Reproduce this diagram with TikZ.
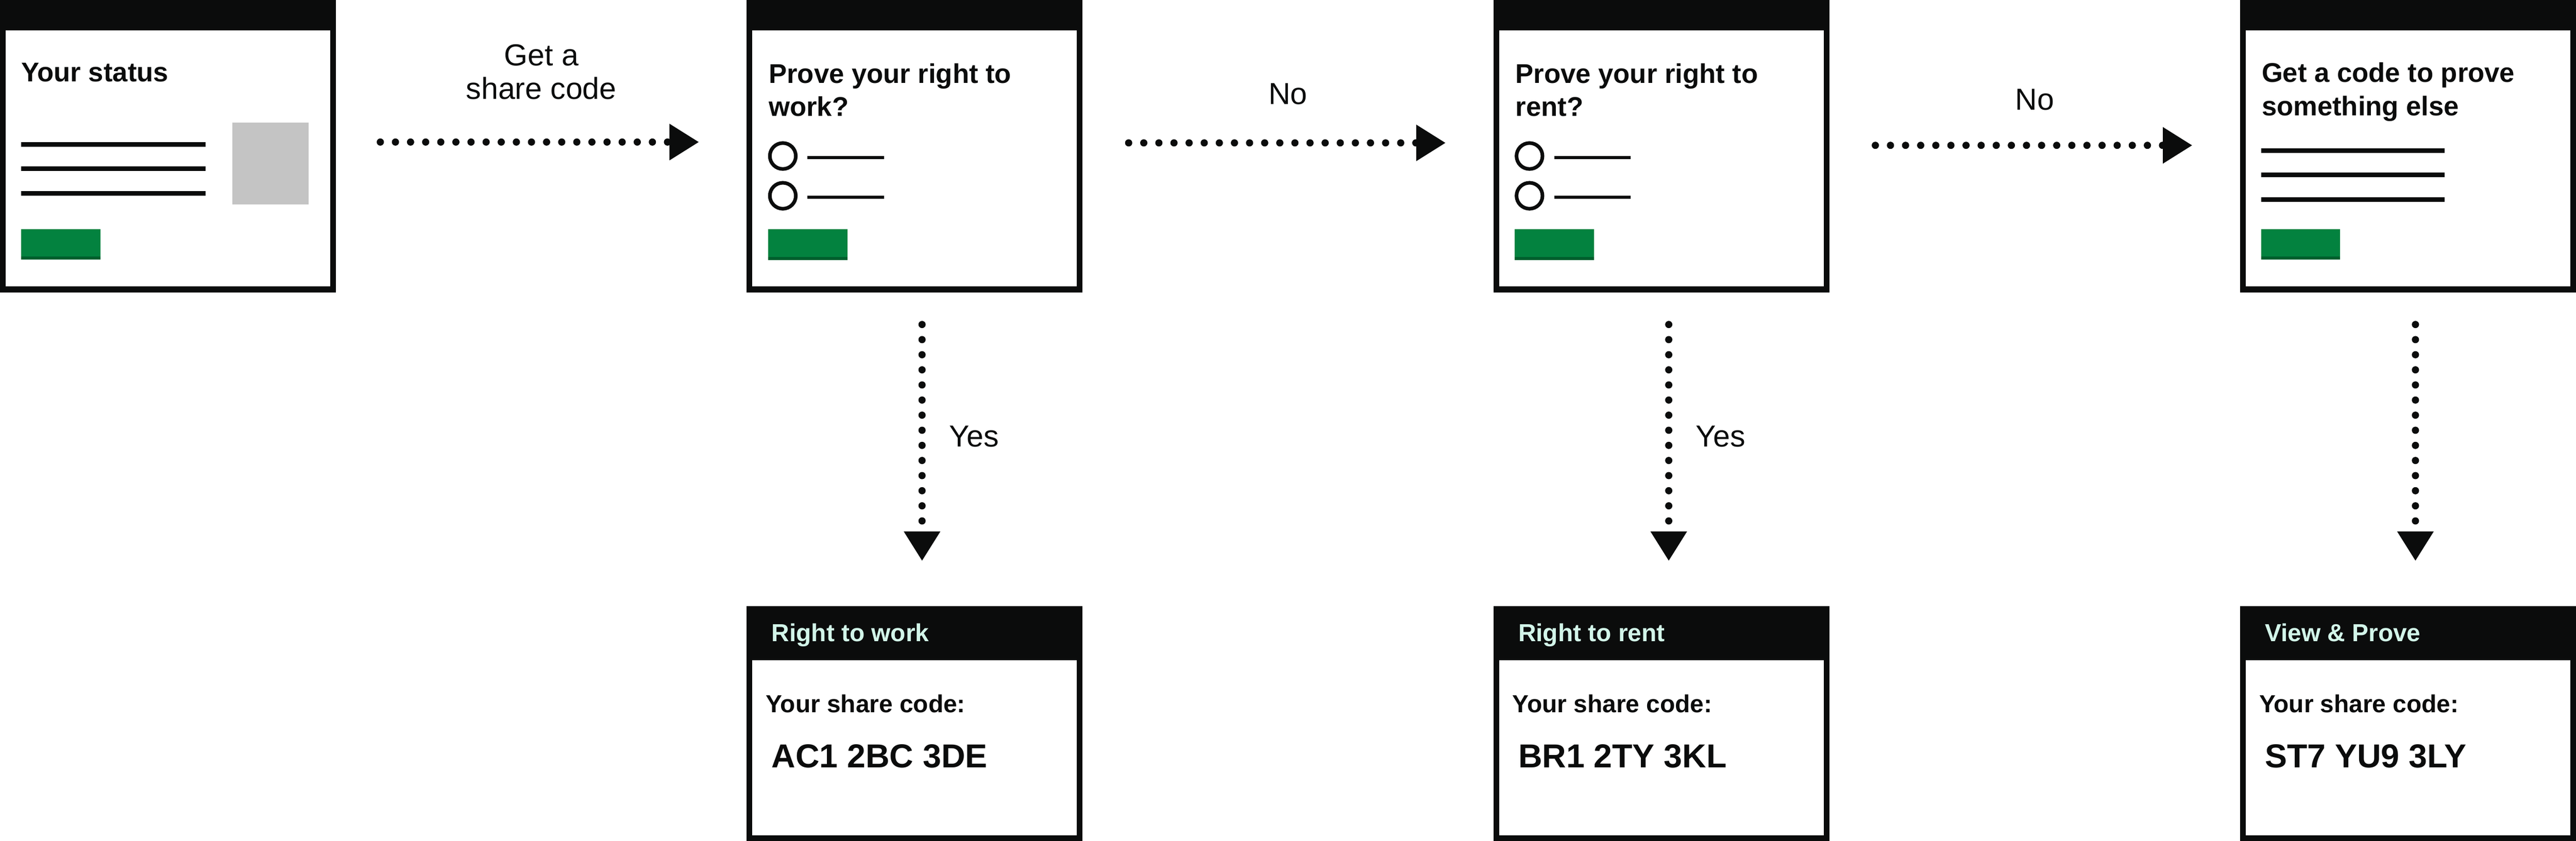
\documentclass[tikz,border=0pt]{standalone}
\usepackage{fontspec}
\setmainfont{Liberation Sans}
\usetikzlibrary{arrows.meta, positioning}
\definecolor{INK}{HTML}{0B0C0C}
\definecolor{GOGREEN}{HTML}{03823F}
\definecolor{GOSHADOW}{HTML}{005F2D}
\definecolor{PLACEHOLDER}{HTML}{C4C4C4}
\definecolor{MINT}{HTML}{D2F5E9}

\tikzset{
  screen/.style={draw=INK, line width=3.5pt, fill=white, inner sep=0pt,
    minimum width=201pt, minimum height=174.5pt,
    path picture={\fill[INK] (path picture bounding box.north west) rectangle ([yshift=-16.75pt]path picture bounding box.north east);}},
  card/.style={draw=INK, line width=3.5pt, fill=white, inner sep=0pt,
    minimum width=201pt, minimum height=139.5pt,
    path picture={\fill[INK] (path picture bounding box.north west) rectangle ([yshift=-31.25pt]path picture bounding box.north east);}},
  title/.style={anchor=north west, inner sep=0pt, outer sep=0pt, align=left, text=INK,
    font=\bfseries\fontsize{16.5}{20.2}\selectfont},
  cardhead/.style={anchor=base west, inner sep=0pt, text=MINT, font=\bfseries\fontsize{15}{18}\selectfont},
  cardlabel/.style={anchor=base west, inner sep=0pt, text=INK, font=\bfseries\fontsize{15}{18}\selectfont},
  sharecode/.style={anchor=base west, inner sep=0pt, text=INK, font=\bfseries\fontsize{20.2}{24}\selectfont},
  textline/.style={INK, line width=2.9pt},
  optionline/.style={INK, line width=1.9pt},
  radio/.style={INK, line width=2.2pt},
  flow/.style={INK, line width=4.4pt, line cap=round, dash pattern=on 0pt off 9.2pt,
    -{Triangle[length=18pt, width=21pt]}},
  arrowlabel/.style={inner sep=0pt, outer sep=0pt, align=center, text=INK,
    font=\fontsize{18.5}{20.4}\selectfont}
}

\begin{document}
\begin{tikzpicture}[x=1pt, y=-1pt]
\useasboundingbox (0,0) rectangle (1568,512);

% screens along the top
\node[screen] (status) at (102.25,89) {};
\node[screen] (work) at (556.75,89) {};
\node[screen] (rent) at (1011.25,89) {};
\node[screen] (other) at (1465.75,89) {};

% share code cards
\node[card] (workcode) at (556.75,440.5) {};
\node[card] (rentcode) at (1011.25,440.5) {};
\node[card] (othercode) at (1465.75,440.5) {};

% your status
\begin{scope}[shift={(status.north west)}]
  \node[title] (status-title) at (13,38.2) {Your status};
  \foreach \y in {88,102.8,117.7}
    \draw[textline] (13,\y) -- (125,\y);
  \fill[PLACEHOLDER] (141.4,74.5) rectangle (188,124.5);
  \fill[GOGREEN] (13,139.5) rectangle (61.2,158.2);
  \fill[GOSHADOW] (13,156.3) rectangle (61.2,158.2);
\end{scope}

% right to work question
\begin{scope}[shift={(work.north west)}]
  \node[title] (work-title) at (13.5,38.6) {Prove your right to\\work?};
  \foreach \y in {95,119.2} {
    \draw[radio] (22,\y) circle[radius=7.9pt];
    \draw[optionline] (37,\y+0.9) -- (83.5,\y+0.9);
  }
  \fill[GOGREEN] (13,139.7) rectangle (61.4,158.3);
  \fill[GOSHADOW] (13,156.4) rectangle (61.4,158.3);
\end{scope}

% right to rent question
\begin{scope}[shift={(rent.north west)}]
  \node[title] (rent-title) at (13.5,38.6) {Prove your right to\\rent?};
  \foreach \y in {95,119.2} {
    \draw[radio] (22,\y) circle[radius=7.9pt];
    \draw[optionline] (37,\y+0.9) -- (83.5,\y+0.9);
  }
  \fill[GOGREEN] (13,139.7) rectangle (61.4,158.3);
  \fill[GOSHADOW] (13,156.4) rectangle (61.4,158.3);
\end{scope}

% something else
\begin{scope}[shift={(other.north west)}]
  \node[title] (other-title) at (13.2,38.2) {Get a code to prove\\something else};
  \foreach \y in {91.7,106.5,121.4}
    \draw[textline] (12.8,\y) -- (124.5,\y);
  \fill[GOGREEN] (12.8,139.5) rectangle (61,158.2);
  \fill[GOSHADOW] (12.8,156.3) rectangle (61,158.2);
\end{scope}

% card texts
\begin{scope}[shift={(workcode.north west)}]
  \node[cardhead] (workcode-head) at (15,21.7) {Right to work};
  \node[cardlabel] (workcode-label) at (11.5,64.8) {Your share code:};
  \node[sharecode] (workcode-code) at (15,98.5) {AC1 2BC 3DE};
\end{scope}
\begin{scope}[shift={(rentcode.north west)}]
  \node[cardhead] (rentcode-head) at (15,21.7) {Right to rent};
  \node[cardlabel] (rentcode-label) at (11.5,64.8) {Your share code:};
  \node[sharecode] (rentcode-code) at (15,98.5) {BR1 2TY 3KL};
\end{scope}
\begin{scope}[shift={(othercode.north west)}]
  \node[cardhead] (othercode-head) at (15,21.7) {View \& Prove};
  \node[cardlabel] (othercode-label) at (11.5,64.8) {Your share code:};
  \node[sharecode] (othercode-code) at (15,98.5) {ST7 YU9 3LY};
\end{scope}

% flow arrows
\draw[flow, shorten <=27pt, shorten >=29pt] ([yshift=2.5pt]status.east) -- node[arrowlabel, above=25.9pt] (share-label) {Get a\\share code} ([yshift=2.5pt]work.west);
\draw[flow, shorten <=28pt, shorten >=29pt] ([yshift=2pt]work.east) -- node[arrowlabel, above=23.4pt] (work-no) {No} ([yshift=2pt]rent.west);
\draw[flow, shorten <=28pt, shorten >=29pt] ([yshift=0.5pt]rent.east) -- node[arrowlabel, above=21.4pt] (rent-no) {No} ([yshift=0.5pt]other.west);

\draw[flow, shorten <=19.6pt, shorten >=27.4pt] ([xshift=4.5pt]work.south) -- node[arrowlabel, pos=0.46, right=16.5pt] (work-yes) {Yes} ([xshift=4.5pt]workcode.north);
\draw[flow, shorten <=19.6pt, shorten >=27.4pt] ([xshift=4.5pt]rent.south) -- node[arrowlabel, pos=0.46, right=16.5pt] (rent-yes) {Yes} ([xshift=4.5pt]rentcode.north);
\draw[flow, shorten <=19.6pt, shorten >=27.4pt] ([xshift=4.5pt]other.south) -- ([xshift=4.5pt]othercode.north);
\end{tikzpicture}
\end{document}
